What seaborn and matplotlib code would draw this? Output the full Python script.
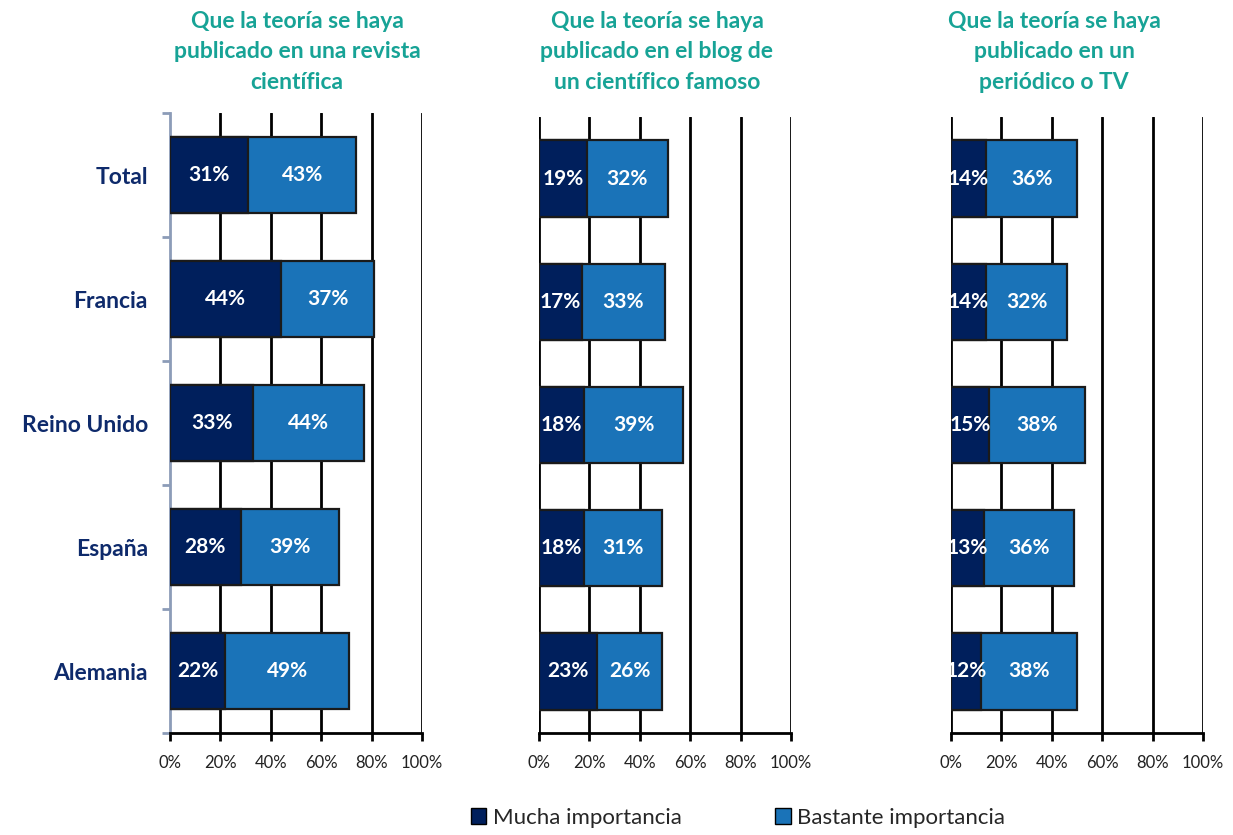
import numpy as np
import pandas as pd
import matplotlib
matplotlib.use('Agg')
import matplotlib.pyplot as plt
from matplotlib.patches import Patch
import seaborn as sns

paises = ['Total', 'Francia', 'Reino Unido', 'España', 'Alemania']

titulos = ['Que la teoría se haya\npublicado en una revista\ncientífica',
           'Que la teoría se haya\npublicado en el blog de\nun científico famoso',
           'Que la teoría se haya\npublicado en un\nperiódico o TV']

# % Mucha importancia / Bastante importancia, por panel
mucha_revista = [31, 44, 33, 28, 22]
bastante_revista = [43, 37, 44, 39, 49]
mucha_blog = [19, 17, 18, 18, 23]
bastante_blog = [32, 33, 39, 31, 26]
mucha_tv = [14, 14, 15, 13, 12]
bastante_tv = [36, 32, 38, 36, 38]

xticks = [0, 20, 40, 60, 80, 100]
xticklabels = ['0%', '20%', '40%', '60%', '80%', '100%']

navy = '#001f5c'
azul = '#1a73b8'
teal = '#17a396'
label_col = '#0e2a6b'

sns.set_theme(style='white')
plt.rcParams['font.family'] = ['Lato', 'DejaVu Sans']

fig = plt.figure(figsize=(12.33, 8.35), dpi=100)

# axes positions (pixels -> fractions)
W, H = 1233, 835
pos = [(170, 113, 733), (539, 117, 733), (951, 117, 733)]
title_x = [297, 657, 1054]

datos = [(mucha_revista, bastante_revista),
         (mucha_blog, bastante_blog),
         (mucha_tv, bastante_tv)]

for i, ((x0, top, bot), (mucha, bastante)) in enumerate(zip(pos, datos)):
    ax = fig.add_axes([x0 / W, 1 - bot / H, 252 / W, (bot - top) / H])
    df = pd.DataFrame({'pais': paises, 'mucha': mucha, 'bastante': bastante})
    df['total'] = df['mucha'] + df['bastante']

    sns.barplot(data=df, y='pais', x='total', color=azul, saturation=1,
                orient='h', width=0.62, edgecolor='#1a1a1a', linewidth=1.6,
                ax=ax, zorder=3)
    sns.barplot(data=df, y='pais', x='mucha', color=navy, saturation=1,
                orient='h', width=0.62, edgecolor='#1a1a1a', linewidth=1.6,
                ax=ax, zorder=4)

    for j, r in df.iterrows():
        ax.text(r['mucha'] / 2, j, f"{r['mucha']}%", color='white',
                ha='center', va='center', fontsize=15, fontweight='bold', zorder=5)
        ax.text(r['mucha'] + r['bastante'] / 2, j, f"{r['bastante']}%",
                color='white', ha='center', va='center', fontsize=15,
                fontweight='bold', zorder=5)

    ax.set_xlim(0, 100)
    ax.set_ylim(4.5, -0.5)
    ax.set_xticks(xticks)
    ax.set_xticklabels(xticklabels, fontsize=12, color='#222222')
    ax.set_xlabel('')
    ax.set_ylabel('')

    # vertical gridlines
    for xt in xticks:
        if i == 0 and xt == 0:
            continue
        ax.axvline(xt, color='black', lw=2, zorder=1)

    for s in ['top', 'right']:
        ax.spines[s].set_visible(False)
    ax.spines['bottom'].set_color('black')
    ax.spines['bottom'].set_linewidth(2)
    ax.tick_params(axis='x', direction='out', length=6, width=2,
                   color='black', bottom=True, pad=10)

    if i == 0:
        ax.spines['left'].set_color('#8c9cb8')
        ax.spines['left'].set_linewidth(2)
        ax.set_yticks(np.arange(-0.5, 5, 1), minor=True)
        ax.set_yticks(range(5))
        ax.set_yticklabels(paises, fontsize=16.5, fontweight='bold', color=label_col)
        ax.tick_params(axis='y', which='major', length=0, pad=16)
        ax.tick_params(axis='y', which='minor', length=6, width=2,
                       color='#8c9cb8', left=True)
    else:
        ax.spines['left'].set_visible(False)
        ax.set_yticks([])

    fig.text(title_x[i] / W, 1 - 52 / H, titulos[i], ha='center', va='center',
             fontsize=16.5, fontweight='bold', color=teal, linespacing=1.55)

# legend
handles = [Patch(facecolor=navy, edgecolor='black', label='Mucha importancia'),
           Patch(facecolor=azul, edgecolor='black', label='Bastante importancia')]
fig.legend(handles=handles, loc='center', bbox_to_anchor=(738 / W, 1 - 818 / H),
           ncol=2, frameon=False, fontsize=16, handlelength=0.7, handleheight=0.7,
           handletextpad=0.3, columnspacing=4.2)

fig.savefig('out.png', dpi=100)
